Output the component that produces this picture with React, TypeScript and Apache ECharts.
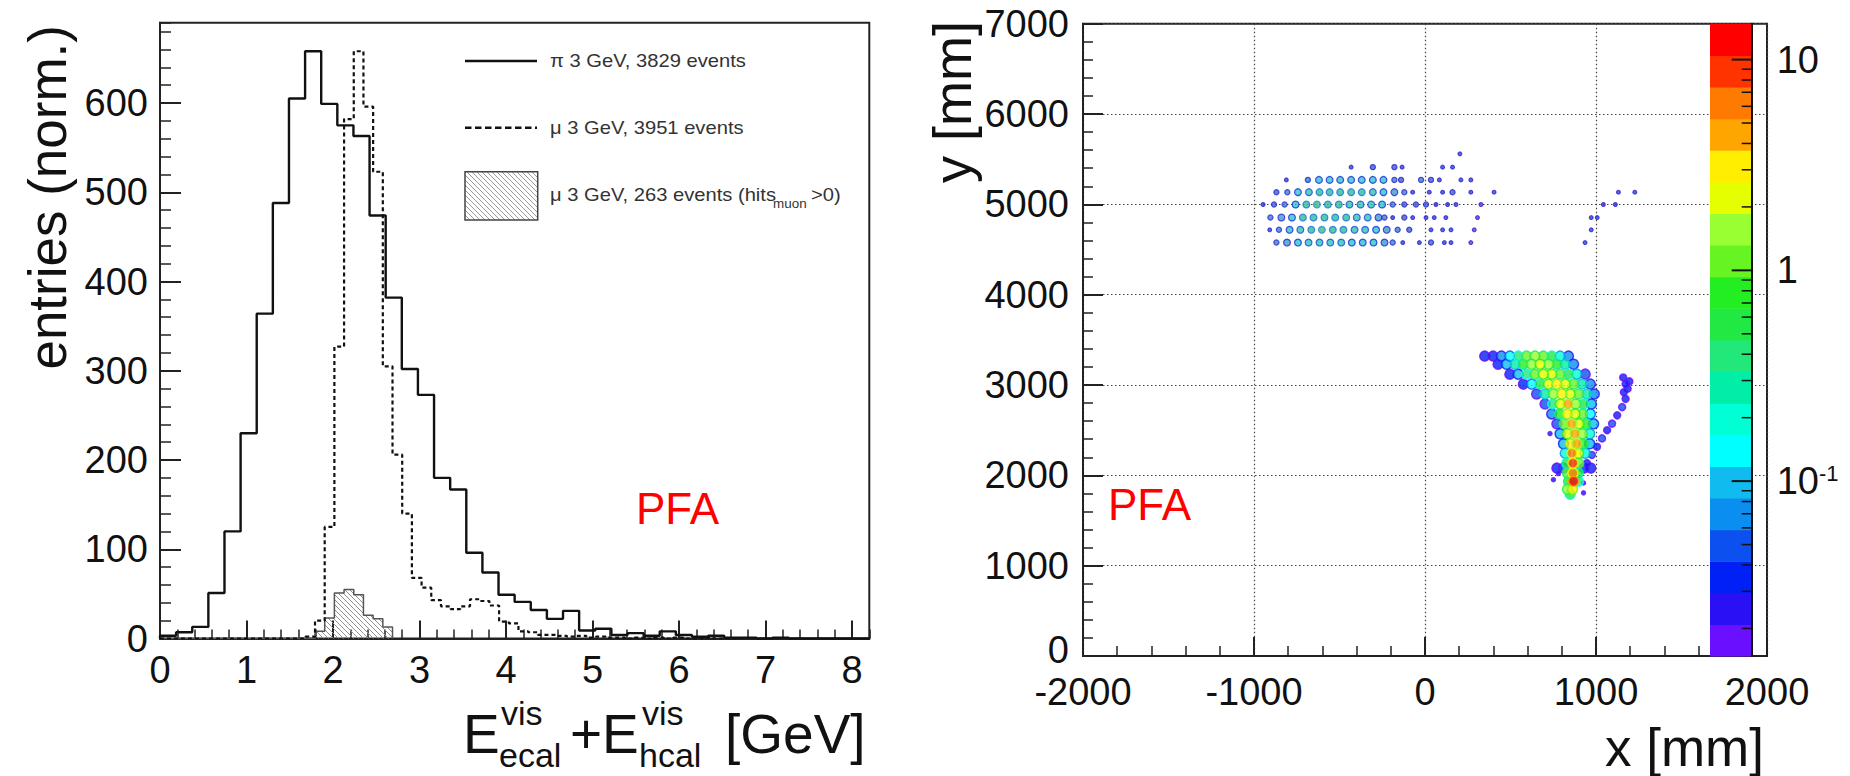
import React, { useEffect, useRef } from "react";
import * as echarts from "echarts";

const FONT = "'Liberation Sans', Arial, Helvetica, sans-serif";

// ---------------- Left panel : energy histograms ----------------
const LEFT_X_MAX = 8.2;
const LEFT_Y_MAX = 690;
const PI_BIN_WIDTH = 8.2 / 44;
const piEntries = [
  3, 7, 13, 51, 120, 230, 364, 488, 605, 658, 599, 575, 563, 474, 382, 302, 273,
  180, 167, 96, 74, 49, 41, 32, 22, 31, 9, 11, 4, 6, 3, 8, 4, 2, 3, 1, 1, 0, 1,
  0, 0, 0, 0, 0,
];
const MU_BIN_WIDTH = 0.112;
const muEntries = [
  0, 0, 0, 0, 0, 0, 0, 0, 0, 0, 0, 0, 0, 0, 0, 2, 20, 125, 327, 582, 658, 596,
  523, 305, 206, 140, 68, 57, 43, 36, 33, 36, 44, 42, 37, 19, 17, 8, 7, 4, 4, 3,
  2, 3, 1, 2, 1, 1, 0, 1, 0, 1, 0, 1, 0, 0, 1, 0, 0, 0,
];
const muHitsEntries = [
  0, 0, 0, 0, 0, 0, 0, 0, 0, 0, 0, 0, 0, 0, 0, 0, 8, 23, 51, 55, 49, 26, 22, 13,
];
const leftXTicks = [0, 1, 2, 3, 4, 5, 6, 7, 8];
const leftYTicks = [0, 100, 200, 300, 400, 500, 600];
const legendLabels = ["π 3 GeV, 3829 events", "μ 3 GeV, 3951 events", "μ 3 GeV, 263 events (hits"];

// ---------------- Right panel : hit map ----------------
const rightXTicks = [-2000, -1000, 0, 1000, 2000];
const rightYTicks = [0, 1000, 2000, 3000, 4000, 5000, 6000, 7000];

const upperRows = [
  { y: 5559, x: [204], v: [0.03] },
  { y: 5412, x: [-432, -305, -179, -134, 103, 161], v: [0.03, 0.05, 0.05, 0.03, 0.03, 0.03] },
  {
    y: 5271,
    x: [-811, -685, -620, -558, -496, -432, -370, -305, -243, -179, -140, -23, 35, 84, 210, 268],
    v: [0.03, 0.06, 0.12, 0.15, 0.15, 0.15, 0.15, 0.15, 0.12, 0.08, 0.05, 0.06, 0.05, 0.04, 0.04, 0.03],
  },
  {
    y: 5135,
    x: [-869, -805, -743, -679, -617, -558, -496, -432, -370, -305, -243, -179, -121, -72, 25, 103, 161, 268, 404, 1131, 1227],
    v: [0.05, 0.08, 0.12, 0.2, 0.25, 0.25, 0.3, 0.25, 0.25, 0.2, 0.15, 0.1, 0.06, 0.03, 0.03, 0.03, 0.05, 0.03, 0.03, 0.03, 0.03],
  },
  {
    y: 4998,
    x: [-947, -883, -821, -757, -694, -632, -568, -504, -442, -377, -315, -251, -189, -121, -53, 6, 64, 132, 181, 327, 1043, 1113],
    v: [0.03, 0.05, 0.08, 0.15, 0.3, 0.4, 0.3, 0.25, 0.2, 0.2, 0.18, 0.12, 0.06, 0.05, 0.05, 0.05, 0.03, 0.03, 0.02, 0.02, 0.03, 0.03],
  },
  {
    y: 4854,
    x: [-904, -840, -778, -714, -652, -588, -525, -461, -399, -335, -272, -237, -189, -121, -72, 6, 54, 122, 307, 972, 1007],
    v: [0.06, 0.1, 0.15, 0.25, 0.3, 0.3, 0.25, 0.25, 0.2, 0.18, 0.1, 0.06, 0.03, 0.05, 0.03, 0.04, 0.03, 0.03, 0.02, 0.03, 0.03],
  },
  {
    y: 4718,
    x: [-908, -854, -792, -729, -665, -603, -539, -477, -412, -350, -286, -224, -160, -92, 35, 103, 152, 288, 972],
    v: [0.03, 0.08, 0.12, 0.2, 0.3, 0.35, 0.3, 0.25, 0.2, 0.2, 0.15, 0.1, 0.06, 0.05, 0.04, 0.03, 0.03, 0.02, 0.03],
  },
  {
    y: 4577,
    x: [-869, -807, -743, -681, -617, -554, -490, -428, -364, -301, -237, -189, -130, -33, 35, 113, 152, 268, 936],
    v: [0.06, 0.1, 0.15, 0.2, 0.2, 0.2, 0.2, 0.15, 0.15, 0.12, 0.1, 0.06, 0.03, 0.03, 0.05, 0.03, 0.03, 0.02, 0.03],
  },
];

const showerRows = [
  { y: 3320, x: [349, 398, 447, 496, 545, 594, 643, 692, 741, 790, 839], v: [0.03, 0.04, 0.06, 0.15, 0.4, 1.0, 1.5, 1.0, 0.5, 0.2, 0.06] },
  { y: 3230, x: [427, 477, 526, 575, 624, 673, 722, 771, 820, 869], v: [0.04, 0.1, 0.3, 0.8, 1.8, 2.2, 1.5, 0.8, 0.3, 0.06] },
  { y: 3120, x: [496, 545, 594, 643, 692, 741, 790, 839, 888, 937], v: [0.04, 0.1, 0.4, 1.2, 2.5, 2.0, 1.2, 0.6, 0.2, 0.05] },
  { y: 3010, x: [575, 624, 673, 722, 771, 820, 869, 918, 967], v: [0.04, 0.15, 0.6, 2.0, 3.0, 2.0, 1.0, 0.3, 0.06] },
  { y: 2900, x: [653, 702, 751, 800, 849, 898, 947, 990], v: [0.05, 0.3, 1.5, 3.5, 2.5, 1.0, 0.3, 0.06] },
  { y: 2790, x: [702, 747, 792, 837, 882, 928, 973], v: [0.05, 0.4, 2.0, 4.0, 1.5, 0.6, 0.1] },
  { y: 2680, x: [741, 786, 831, 877, 922, 967], v: [0.06, 0.8, 3.5, 2.5, 1.0, 0.15] },
  { y: 2570, x: [771, 814, 857, 900, 943, 986], v: [0.05, 1.0, 4.5, 2.5, 0.8, 0.1] },
  { y: 2460, x: [790, 833, 877, 920, 963], v: [0.1, 2.0, 5.0, 1.5, 0.2] },
  { y: 2350, x: [810, 849, 888, 928, 963], v: [0.1, 3.0, 4.5, 0.8, 0.1] },
  { y: 2245, x: [820, 859, 898, 937], v: [0.2, 6.0, 2.0, 0.2] },
  { y: 2135, x: [829, 865, 900], v: [0.5, 8, 1.0] },
  { y: 2080, x: [771, 810, 930, 970], v: [0.03, 0.05, 0.04, 0.03] },
  { y: 2025, x: [833, 865, 896], v: [1.0, 6.0, 0.8] },
  { y: 1935, x: [839, 869, 898], v: [0.8, 12, 0.4] },
  { y: 1845, x: [833, 863], v: [1.5, 3.0] },
  { y: 1790, x: [849], v: [0.6] },
];

const armX = [947, 976, 1006, 1035, 1065, 1094, 1124, 1153, 1173, 1163, 1185, 1173, 1159, 1195];
const armY = [2135, 2226, 2317, 2409, 2500, 2573, 2664, 2755, 2847, 2920, 2960, 3011, 3084, 3040];
const armV = [0.04, 0.05, 0.04, 0.05, 0.04, 0.05, 0.04, 0.05, 0.04, 0.04, 0.03, 0.04, 0.03, 0.03];

const strayX = [731, 751, 927, 927, 780];
const strayY = [2463, 1952, 1916, 1806, 2020];
const strayV = [0.03, 0.03, 0.03, 0.03, 0.03];

// ---------------- Colour scale ----------------
const CB_MIN = 0.0148;
const CB_MAX = 14.8;
const PALETTE = [
  "#6a0fff", "#2a10f5", "#0020f5", "#0d50f0", "#0a8ef0", "#10bbf0", "#00ffff",
  "#00ffd5", "#00eea5", "#22e87a", "#22e844", "#22ee22", "#66f522", "#99ff33",
  "#e5ff00", "#ffee00", "#ffa500", "#ff7a00", "#ff3300", "#ff0000",
];
const CB_MAJOR = [0.1, 1, 10];
const CB_MINOR = [
  0.02, 0.03, 0.04, 0.05, 0.06, 0.07, 0.08, 0.09,
  0.2, 0.3, 0.4, 0.5, 0.6, 0.7, 0.8, 0.9,
  2, 3, 4, 5, 6, 7, 8, 9,
];

function bandIndex(v: number) {
  const t = Math.log10(v / CB_MIN) / Math.log10(CB_MAX / CB_MIN);
  return Math.max(0, Math.min(PALETTE.length - 1, Math.floor(t * PALETTE.length)));
}

function mix(a: string, b: string, t: number) {
  const pa = [1, 3, 5].map((k) => parseInt(a.slice(k, k + 2), 16));
  const pb = [1, 3, 5].map((k) => parseInt(b.slice(k, k + 2), 16));
  const c = pa.map((x, k) => Math.round(x * (1 - t) + pb[k] * t));
  return `rgb(${c[0]},${c[1]},${c[2]})`;
}

function hatchSegments(X0: number, Y0: number, X1: number, Y1: number, s: number) {
  const out: { x1: number; y1: number; x2: number; y2: number }[] = [];
  const cMin = X0 - Y1;
  const cMax = X1 - Y0;
  for (let c = Math.ceil(cMin / s) * s; c <= cMax; c += s) {
    const ya = Math.max(Y0, X0 - c);
    const yb = Math.min(Y1, X1 - c);
    if (yb > ya) out.push({ x1: ya + c, y1: ya, x2: yb + c, y2: yb });
  }
  return out;
}

function stepPoints(counts: number[], w: number) {
  const pts: number[][] = [[0, 0]];
  counts.forEach((c, i) => pts.push([i * w, c]));
  pts.push([counts.length * w, 0]);
  return pts;
}

function buildOption() {
  const tickStyle = { color: "#222", width: 2 };
  const minorStyle = { color: "#222", width: 1.5 };
  const labelBase = { fontSize: 38, color: "#111", fontFamily: FONT };
  const gridDots = { type: [1.5, 2.5] as any, color: "#444", width: 1.2 };

  // upper cluster points (small, muted contour blobs)
  const upperData: any[] = [];
  upperRows.forEach((r) =>
    r.x.forEach((x, j) => {
      const v = r.v[j];
      const i = bandIndex(v);
      upperData.push({
        value: [x, r.y, v],
        symbolSize: v >= 0.1 ? 6.8 : v >= 0.05 ? 5.2 : 3.8,
        itemStyle: {
          color: mix(PALETTE[i], "#6a7a90", 0.45),
          borderColor: mix(PALETTE[Math.max(1, i - 4)], "#3040a0", 0.35),
          borderWidth: 1.2,
        },
      });
    })
  );

  // shower points
  const showerRaw: number[][] = [];
  showerRows.forEach((r) => r.x.forEach((x, j) => showerRaw.push([x, r.y, r.v[j], 10])));
  armX.forEach((x, j) => showerRaw.push([x, armY[j], armV[j], 7]));
  strayX.forEach((x, j) => showerRaw.push([x, strayY[j], strayV[j], 4]));
  showerRaw.sort((a, b) => a[2] - b[2]);
  const showerData = showerRaw.map((p) => {
    const i = bandIndex(p[2]);
    return {
      value: [p[0], p[1], p[2]],
      symbolSize: p[3],
      itemStyle: { color: PALETTE[i], borderColor: PALETTE[Math.max(0, i - 3)], borderWidth: 1.5 },
    };
  });

  const hatchData = muHitsEntries
    .map((v, k) => [k * MU_BIN_WIDTH, (k + 1) * MU_BIN_WIDTH, v])
    .filter((d) => d[2] > 0);

  const bandData = PALETTE.map((_, i) => {
    const lo = CB_MIN * Math.pow(CB_MAX / CB_MIN, i / PALETTE.length);
    const hi = CB_MIN * Math.pow(CB_MAX / CB_MIN, (i + 1) / PALETTE.length);
    return [0.5, Math.sqrt(lo * hi), i, lo, hi];
  });
  const cbTickData = [
    ...CB_MAJOR.map((v) => [1, v, 20]),
    ...CB_MINOR.map((v) => [1, v, 10]),
  ];

  // legend hatch box
  const LB = { x: 465, y: 171.7, w: 72.7, h: 48.3 };
  const legendHatch = hatchSegments(LB.x, LB.y, LB.x + LB.w, LB.y + LB.h, 5).map((s) => ({
    type: "line",
    shape: s,
    style: { stroke: "#9a9a9a", lineWidth: 1 },
    z: 20,
  }));

  const txt = (x: number, y: number, text: string, size: number, opts: any = {}) => ({
    type: "text",
    x,
    y,
    z: 20,
    rotation: opts.rotation || 0,
    scaleX: opts.scaleX || 1,
    style: {
      text,
      fontSize: size,
      fontFamily: FONT,
      fill: opts.fill || "#111",
      align: opts.align || "left",
      verticalAlign: "middle",
      textAlign: opts.align || "left",
      textVerticalAlign: "middle",
    },
  });

  return {
    animation: false,
    backgroundColor: "#ffffff",
    textStyle: { fontFamily: FONT },
    grid: [
      { left: 160, top: 22.7, width: 709.3, height: 615.8, show: true, borderColor: "#222", borderWidth: 2, backgroundColor: "transparent" },
      { left: 1083, top: 23.7, width: 684, height: 632.3, show: true, borderColor: "#222", borderWidth: 2, backgroundColor: "transparent" },
      { left: 1710, top: 23.7, width: 41.7, height: 632.3, show: false },
    ],
    xAxis: [
      {
        gridIndex: 0, type: "value", position: "bottom", min: 0, max: LEFT_X_MAX, interval: 1,
        axisLine: { show: true, onZero: false, lineStyle: tickStyle },
        axisTick: { show: true, inside: true, length: 18, lineStyle: tickStyle },
        axisLabel: { ...labelBase, margin: 12, showMaxLabel: false, formatter: (v: number) => (leftXTicks.includes(Math.round(v * 1000) / 1000) ? String(Math.round(v)) : "") },
        splitLine: { show: false },
      },
      {
        gridIndex: 0, type: "value", position: "bottom", min: 0, max: LEFT_X_MAX, interval: 0.2,
        axisLine: { show: false, onZero: false },
        axisTick: { show: true, inside: true, length: 9, lineStyle: minorStyle },
        axisLabel: { show: false },
        splitLine: { show: false },
      },
      {
        gridIndex: 1, type: "value", position: "bottom", min: -2000, max: 2000, interval: 1000,
        axisLine: { show: true, onZero: false, lineStyle: tickStyle },
        axisTick: { show: true, inside: true, length: 19, lineStyle: tickStyle },
        minorTick: { show: true, splitNumber: 5, length: 10, lineStyle: minorStyle },
        axisLabel: { ...labelBase, lineHeight: 30, margin: 21, formatter: (v: number) => (rightXTicks.includes(v) ? String(v) : "") },
        splitLine: { show: true, lineStyle: gridDots },
      },
      { gridIndex: 2, type: "value", min: 0, max: 1, show: false },
    ],
    yAxis: [
      {
        gridIndex: 0, type: "value", position: "left", min: 0, max: LEFT_Y_MAX, interval: 100,
        axisLine: { show: true, onZero: false, lineStyle: tickStyle },
        axisTick: { show: true, inside: true, length: 21, lineStyle: tickStyle },
        axisLabel: { ...labelBase, margin: 12, showMaxLabel: false, formatter: (v: number) => (leftYTicks.includes(v) ? String(v) : "") },
        splitLine: { show: false },
      },
      {
        gridIndex: 0, type: "value", position: "left", min: 0, max: LEFT_Y_MAX, interval: 20,
        axisLine: { show: false, onZero: false },
        axisTick: { show: true, inside: true, length: 11, lineStyle: minorStyle },
        axisLabel: { show: false },
        splitLine: { show: false },
      },
      {
        gridIndex: 1, type: "value", position: "left", min: 0, max: 7000, interval: 1000,
        axisLine: { show: true, onZero: false, lineStyle: tickStyle },
        axisTick: { show: true, inside: true, length: 20, lineStyle: tickStyle },
        minorTick: { show: true, splitNumber: 5, length: 10, lineStyle: minorStyle },
        axisLabel: {
          ...labelBase,
          lineHeight: 30,
          margin: 14,
          formatter: (v: number) => (v === 0 ? "{z|0}" : rightYTicks.includes(v) ? String(v) : ""),
          rich: { z: { fontSize: 38, fontFamily: FONT, color: "#111", lineHeight: 30, padding: [0, 0, 12, 0] } },
        },
        splitLine: { show: true, lineStyle: gridDots },
      },
      {
        gridIndex: 2, type: "log", logBase: 10, position: "right", min: CB_MIN, max: CB_MAX, z: 10,
        axisLine: { show: true, onZero: false, lineStyle: { color: "#111", width: 2 } },
        axisTick: { show: false },
        splitLine: { show: false },
        axisLabel: {
          ...labelBase,
          margin: 25,
          formatter: (v: number) => {
            const e = Math.log10(v);
            const r = Math.round(e);
            if (Math.abs(e - r) > 1e-6) return "";
            if (r === 1) return "{b|10}";
            if (r === 0) return "{b|1}";
            if (r === -1) return "{b|10}{s|-1}";
            return "";
          },
          rich: {
            b: { fontSize: 38, fontFamily: FONT, color: "#111" },
            s: { fontSize: 22, fontFamily: FONT, color: "#111", verticalAlign: "top" },
          },
        },
      },
    ],
    series: [
      {
        type: "custom",
        name: "mu hits hatch",
        xAxisIndex: 0,
        yAxisIndex: 0,
        z: 1,
        silent: true,
        data: hatchData,
        encode: { x: [0, 1], y: 2 },
        renderItem: (params: any, api: any) => {
          const p0 = api.coord([api.value(0), api.value(2)]);
          const p1 = api.coord([api.value(1), 0]);
          const segs = hatchSegments(p0[0], p0[1], p1[0], p1[1], 5);
          return {
            type: "group",
            children: segs.map((s) => ({ type: "line", shape: s, style: { stroke: "#8f8f8f", lineWidth: 1 } })),
          };
        },
      },
      {
        type: "line", name: "mu hits", xAxisIndex: 0, yAxisIndex: 0, z: 2, step: "end",
        showSymbol: false, symbol: "none", silent: true,
        lineStyle: { color: "#555", width: 1.5 },
        data: stepPoints(muHitsEntries, MU_BIN_WIDTH),
      },
      {
        type: "line", name: "mu", xAxisIndex: 0, yAxisIndex: 0, z: 3, step: "end",
        showSymbol: false, symbol: "none", silent: true,
        lineStyle: { color: "#111", width: 2.2, type: [4, 3] },
        data: stepPoints(muEntries, MU_BIN_WIDTH),
      },
      {
        type: "line", name: "pi", xAxisIndex: 0, yAxisIndex: 0, z: 4, step: "end",
        showSymbol: false, symbol: "none", silent: true,
        lineStyle: { color: "#111", width: 2.4 },
        data: stepPoints(piEntries, PI_BIN_WIDTH),
      },
      {
        type: "scatter", name: "upper hits", xAxisIndex: 2, yAxisIndex: 2, z: 3, silent: true,
        symbol: "circle", data: upperData,
      },
      {
        type: "scatter", name: "shower hits", xAxisIndex: 2, yAxisIndex: 2, z: 3, silent: true,
        symbol: "circle", data: showerData,
      },
      {
        type: "custom", name: "colorbar", xAxisIndex: 3, yAxisIndex: 3, z: 6, silent: true,
        data: bandData,
        encode: { x: 0, y: 1 },
        renderItem: (params: any, api: any) => {
          const i = api.value(2);
          const a = api.coord([0, api.value(3)]);
          const b = api.coord([1, api.value(4)]);
          return {
            type: "rect",
            shape: { x: a[0], y: b[1], width: b[0] - a[0], height: a[1] - b[1] + 0.6 },
            style: { fill: PALETTE[i] },
          };
        },
      },
      {
        type: "custom", name: "colorbar ticks", xAxisIndex: 3, yAxisIndex: 3, z: 11, silent: true,
        data: cbTickData,
        encode: { x: 0, y: 1 },
        renderItem: (params: any, api: any) => {
          const p = api.coord([1, api.value(1)]);
          const len = api.value(2);
          return {
            type: "line",
            shape: { x1: p[0], y1: p[1], x2: p[0] - len, y2: p[1] },
            style: { stroke: "#111", lineWidth: len > 15 ? 2 : 1.5 },
          };
        },
      },
    ],
    graphic: [
      // left axis titles
      txt(47, 25, "entries (norm.)", 53, { rotation: Math.PI / 2, align: "right" }),
      txt(463, 733.7, "E", 55),
      txt(501, 713.2, "vis", 34),
      txt(499, 755.2, "ecal", 34),
      txt(570, 733.7, "+", 55),
      txt(602, 733.7, "E", 55),
      txt(642, 713.2, "vis", 34),
      txt(639, 755.2, "hcal", 34),
      txt(725, 733.7, "[GeV]", 55),
      txt(636, 508.8, "PFA", 44, { fill: "#ff0000" }),
      // legend
      { type: "line", z: 20, shape: { x1: 465, y1: 61, x2: 537, y2: 61 }, style: { stroke: "#111", lineWidth: 2.5 } },
      { type: "line", z: 20, shape: { x1: 465, y1: 127.7, x2: 537, y2: 127.7 }, style: { stroke: "#111", lineWidth: 2.5, lineDash: [6.5, 3.5] } },
      ...legendHatch,
      { type: "rect", z: 21, shape: { x: LB.x, y: LB.y, width: LB.w, height: LB.h }, style: { fill: "none", stroke: "#444", lineWidth: 1.5 } },
      txt(550, 61.2, legendLabels[0], 18, { fill: "#333", scaleX: 1.12 }),
      txt(550, 128.3, legendLabels[1], 18, { fill: "#333", scaleX: 1.12 }),
      txt(550, 195, legendLabels[2], 18, { fill: "#333", scaleX: 1.12 }),
      txt(773, 204, "muon", 12, { fill: "#333", scaleX: 1.12 }),
      txt(811, 195, ">0)", 18, { fill: "#333", scaleX: 1.12 }),
      // right titles
      txt(952, 21, "y [mm]", 54, { rotation: Math.PI / 2, align: "right" }),
      txt(1764, 747, "x [mm]", 53, { align: "right" }),
      txt(1108, 504.8, "PFA", 44, { fill: "#ff0000" }),
    ],
  };
}

export default function App() {
  const ref = useRef<HTMLDivElement>(null);
  useEffect(() => {
    if (!ref.current) return;
    const chart = echarts.init(ref.current, undefined, { renderer: "svg" });
    chart.setOption(buildOption() as any);
    return () => {
      chart.dispose();
    };
  }, []);
  return (
    <div
      ref={ref}
      style={{ position: "fixed", left: 0, top: 0, width: 1850, height: 776, background: "#fff" }}
    />
  );
}
